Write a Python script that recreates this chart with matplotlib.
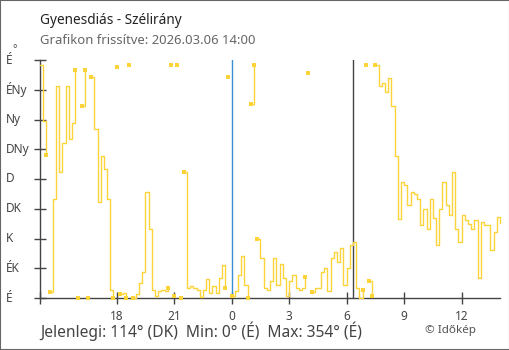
import numpy as np
import matplotlib.pyplot as plt
from matplotlib.patches import Rectangle
from matplotlib.transforms import blended_transform_factory

plt.rcParams['font.family'] = ['Noto Sans', 'DejaVu Sans']

# wind direction in degrees, one reading every 10 minutes from 14:00 to 14:00
start_hour = 14
step_minutes = 10
direction = [
    352, 267, 217, 9, 150, 320, 190, 235, 320, 240,
    265, 345, 0, 290, 345, 0, 335, 255, 145, 215,
    195, 150, 12, 0, 350, 6, 8, 0, 353, 0,
    6, 22, 40, 160, 105, 12, 3, 10, 12, 10,
    15, 353, 3, 353, 0, 190, 15, 18, 15, 12,
    2, 12, 28, 8, 18, 8, 30, 50, 15, 335,
    3, 10, 35, 63, 20, 0, 293, 353, 90, 60,
    15, 12, 25, 60, 20, 52, 30, 3, 25, 35,
    15, 12, 15, 32, 341, 9, 15, 15, 40, 45,
    10, 60, 70, 55, 75, 20, 45, 80, 85, 15,
    0, 12, 353, 25, 3, 353, 320, 325, 312, 333,
    290, 215, 120, 175, 171, 140, 160, 158, 150, 110,
    135, 105, 150, 121, 80, 135, 175, 140, 125, 190,
    105, 85, 125, 118, 112, 105, 118, 30, 115, 110,
    110, 72, 100, 122, 114,
]

dir_ticks = [0, 45, 90, 135, 180, 225, 270, 315, 360]
dir_labels = ["É", "ÉK", "K", "DK", "D", "DNy", "Ny", "ÉNy", "É"]
hour_ticks = [14, 18, 21, 24, 27, 30, 33, 36]
hour_labels = ["", "18", "21", "0", "3", "6", "9", "12"]
midnight = 24
sunrise = 30.33

title = "Gyenesdiás - Szélirány"
subtitle = "Grafikon frissítve: 2026.03.06 14:00"
summary = "Jelenlegi: 114° (DK)  Min: 0° (É)  Max: 354° (É)"
credit = "© Időkép"

line_color = "#fdd33a"
axis_color = "#444444"

W, H = 510, 350
fig = plt.figure(figsize=(W / 100, H / 100), dpi=100)
ax = fig.add_axes([40 / W, 52 / H, 460 / W, 238 / H])

hours = start_hour + np.arange(len(direction)) * step_minutes / 60
vals = np.array(direction, dtype=float)

# break the trace wherever the direction wraps across north
breaks = np.where(np.abs(np.diff(vals)) > 180)[0] + 1
for seg_h, seg_v in zip(np.split(hours, breaks), np.split(vals, breaks)):
    ax.plot(seg_h, seg_v, drawstyle='steps-post', color=line_color,
            lw=1.0, clip_on=False, zorder=3)
    ends = []
    if seg_h[0] != hours[0]:
        ends.append(0)
    if seg_h[-1] != hours[-1]:
        ends.append(len(seg_h) - 1)
    if ends:
        ax.plot(seg_h[ends], seg_v[ends], 's', ms=3.2, color=line_color,
                mew=0, clip_on=False, zorder=4)

ax.axvline(midnight, color="#3a8fd6", lw=1.0, zorder=2)
ax.axvline(sunrise, color=axis_color, lw=1.0, zorder=2)

ax.set_xlim(start_hour, hours[-1])
ax.set_ylim(0, 360)

for side in ("top", "right"):
    ax.spines[side].set_visible(False)
for side in ("left", "bottom"):
    ax.spines[side].set_color(axis_color)
    ax.spines[side].set_linewidth(1.0)

ax.set_xticks(hour_ticks)
ax.set_xticklabels(hour_labels)
ax.set_yticks(dir_ticks)
ax.set_yticklabels([])
ax.tick_params(axis="both", direction="inout", length=9, width=1.0,
               color=axis_color, labelcolor=axis_color, labelsize=8.5)
ax.tick_params(axis="x", pad=4)
ax.xaxis.get_major_ticks()[hour_ticks.index(midnight)].tick1line.set_color("#3a8fd6")

# compass labels, left aligned at the figure edge
trans = blended_transform_factory(fig.transFigure, ax.transData)
for val, lab in zip(dir_ticks, dir_labels):
    ax.text(6 / W, val, lab, transform=trans, ha="left", va="center",
            fontsize=8.5, color=axis_color)
fig.text(12 / W, 1 - 50 / H, "°", ha="left", va="center",
         fontsize=7.5, color=axis_color)

fig.text(40 / W, 1 - 20 / H, title, ha="left", va="center",
         fontsize=9.8, color="#222222")
fig.text(40 / W, 1 - 40 / H, subtitle, ha="left", va="center",
         fontsize=9.4, color="#666666")
fig.text(40 / W, 1 - 331 / H, summary, ha="left", va="center",
         fontsize=11.2, color=axis_color)
fig.text(425 / W, 1 - 330 / H, credit, ha="left", va="center",
         fontsize=8.4, color="#555555")

fig.patches.append(Rectangle((0, 0), 1, 1, transform=fig.transFigure,
                             fill=False, edgecolor="#666666", lw=1.5))

fig.savefig("out.png", dpi=100)
